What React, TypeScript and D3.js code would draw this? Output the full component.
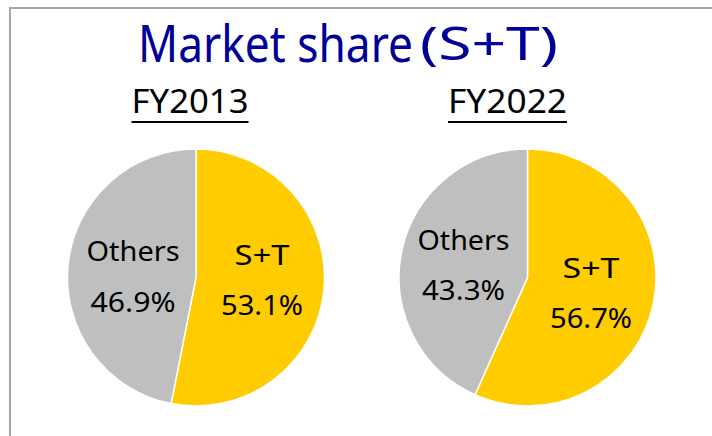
import React from "react";
import * as d3 from "d3";

const years = ["FY2013", "FY2022"];
const categories = ["S+T", "Others"];
const shareST = [53.1, 56.7];
const shareOthers = [46.9, 43.3];
const colors = ["#FFCC00", "#BFBFBF"];

const W = 712;
const H = 436;
const FONT = "'Noto Sans', 'Open Sans', sans-serif";

// layout per pie
const pieCenters = [
  { cx: 196, cy: 277.5 },
  { cx: 527.5, cy: 277.5 },
];
const R = 128.5;

// label positions (relative to pie center x)
const labelLayout = [
  [
    { x: 66, y1: 265, y2: 315, l1: 55, l2: 82 },
    { x: -63, y1: 260.7, y2: 311.7, l1: 93, l2: 85 },
  ],
  [
    { x: 63.5, y1: 278.3, y2: 328, l1: 57, l2: 82 },
    { x: -64, y1: 250, y2: 300, l1: 92, l2: 83 },
  ],
];

export default function App() {
  const pie = d3
    .pie<number>()
    .sort(null)
    .value((d) => d)
    .startAngle(0)
    .endAngle(2 * Math.PI);
  const arc = d3.arc<d3.PieArcDatum<number>>().innerRadius(0).outerRadius(R);

  return (
    <svg
      width={W}
      height={H}
      style={{ position: "absolute", left: 0, top: 0, background: "#fff" }}
    >
      <rect x={0} y={0} width={W} height={H} fill="#fff" />
      <rect
        x={10}
        y={8}
        width={900}
        height={600}
        fill="none"
        stroke="#A6A6A6"
        strokeWidth={2}
      />
      <g transform="translate(138,61.7) scale(1,1.17)">
        <text
          x={0}
          y={0}
          fontFamily={FONT}
          fontSize={44}
          fill="#000099"
          textLength={275}
          lengthAdjust="spacingAndGlyphs"
        >
          Market share
        </text>
      </g>
      <text
        x={420}
        y={60}
        fontFamily={FONT}
        fontSize={45}
        fill="#000099"
        textLength={138}
        lengthAdjust="spacingAndGlyphs"
      >
        (S+T)
      </text>
      {years.map((yr, i) => {
        const c = pieCenters[i];
        const data = [shareST[i], shareOthers[i]];
        const arcs = pie(data);
        const x0 = i === 0 ? 131.5 : 448;
        const len = i === 0 ? 117 : 119;
        return (
          <g key={yr}>
            <text
              x={x0}
              y={112.7}
              fontFamily={FONT}
              fontSize={32}
              fill="#000"
              textLength={len}
              lengthAdjust="spacingAndGlyphs"
            >
              {yr}
            </text>
            <line
              x1={x0}
              x2={x0 + len}
              y1={122}
              y2={122}
              stroke="#000"
              strokeWidth={2}
            />
            <g transform={`translate(${c.cx},${c.cy})`}>
              {arcs.map((a, j) => (
                <path
                  key={j}
                  d={arc(a) || ""}
                  fill={colors[j]}
                  stroke="#fff"
                  strokeWidth={1.5}
                />
              ))}
            </g>
            {categories.map((cat, j) => {
              const L = labelLayout[i][j];
              const val = data[j].toFixed(1) + "%";
              return (
                <g key={cat}>
                  <text
                    x={c.cx + L.x}
                    y={L.y1}
                    textAnchor="middle"
                    fontFamily={FONT}
                    fontSize={27}
                    fill="#000"
                    textLength={L.l1}
                    lengthAdjust="spacingAndGlyphs"
                  >
                    {cat}
                  </text>
                  <text
                    x={c.cx + L.x}
                    y={L.y2}
                    textAnchor="middle"
                    fontFamily={FONT}
                    fontSize={28}
                    fill="#000"
                    textLength={L.l2}
                    lengthAdjust="spacingAndGlyphs"
                  >
                    {val}
                  </text>
                </g>
              );
            })}
          </g>
        );
      })}
    </svg>
  );
}
